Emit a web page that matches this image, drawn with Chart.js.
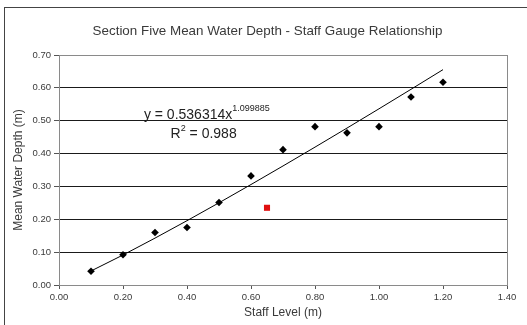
<!DOCTYPE html>
<html>
<head>
<meta charset="utf-8">
<script src="https://cdn.jsdelivr.net/npm/chart.js@4/dist/chart.umd.min.js"></script>
<style>
  html, body { margin: 0; padding: 0; background: #fff; }
  #wrap { width: 527px; height: 325px; }
</style>
</head>
<body>
<div id="wrap"><canvas id="chart" width="527" height="325"></canvas></div>
<script>
// staff level readings (m) and mean water depth (m)
const staffLevels = [0.1, 0.2, 0.3, 0.4, 0.5, 0.6, 0.7, 0.8, 0.9, 1.0, 1.1, 1.2];
const meanDepths = [0.042, 0.092, 0.160, 0.175, 0.251, 0.332, 0.412, 0.482, 0.463, 0.482, 0.572, 0.617];

// the odd one out, marked in red
const outlierLevel = [0.65];
const outlierDepth = [0.235];

// power trendline as printed on the chart
const trendCoef = 0.536314;
const trendExp = 1.099885;
const trendR2 = 0.988;

const xTicks = [0, 0.2, 0.4, 0.6, 0.8, 1.0, 1.2, 1.4];
const yTicks = [0, 0.1, 0.2, 0.3, 0.4, 0.5, 0.6, 0.7];

const chartTitle = 'Section Five Mean Water Depth - Staff Gauge Relationship';

const FONT = '"Liberation Sans", Arial, sans-serif';
const TEXT = '#3a3a3a';

const trendPoints = [];
for (let i = 0; i < staffLevels.length; i++) {
    const x = staffLevels[i];
    trendPoints.push({ x, y: trendCoef * Math.pow(x, trendExp) });
}

const framePlugin = {
    id: 'frame',
    beforeDraw(chart) {
        const ctx = chart.ctx;
        ctx.save();
        ctx.fillStyle = '#fff';
        ctx.fillRect(0, 0, chart.width, chart.height);
        ctx.strokeStyle = '#444';
        ctx.lineWidth = 1;
        ctx.strokeRect(4.5, 7.5, chart.width + 20, chart.height + 20);

        // title sits a bit right of the canvas centre, like the original
        ctx.fillStyle = TEXT;
        ctx.font = '13.4px ' + FONT;
        ctx.textAlign = 'center';
        ctx.textBaseline = 'middle';
        ctx.fillText(chartTitle, 267.5, 31);
        ctx.restore();
    },
    afterDatasetsDraw(chart) {
        const { ctx, chartArea: a, scales } = chart;
        ctx.save();
        ctx.strokeStyle = '#8a8a8a';
        ctx.lineWidth = 1;
        ctx.strokeRect(Math.round(a.left) + 0.5, Math.round(a.top) + 0.5,
            Math.round(a.right - a.left), Math.round(a.bottom - a.top));

        // trendline equation
        const ex = scales.x.getPixelForValue(0.462);
        const ey = scales.y.getPixelForValue(0.505);
        ctx.fillStyle = '#222';
        ctx.textBaseline = 'alphabetic';
        ctx.font = '14px ' + FONT;
        const main = 'y = ' + trendCoef + 'x';
        const mw = ctx.measureText(main).width;
        ctx.font = '9px ' + FONT;
        const sup = String(trendExp);
        const sw = ctx.measureText(sup).width;
        const startX = ex - (mw + sw) / 2;
        ctx.font = '14px ' + FONT;
        ctx.textAlign = 'left';
        ctx.fillText(main, startX, ey);
        ctx.font = '9px ' + FONT;
        ctx.fillText(sup, startX + mw, ey - 8);

        const ry = ey + 19;
        ctx.font = '14px ' + FONT;
        const r1 = 'R', r2 = ' = ' + trendR2.toFixed(3);
        const w1 = ctx.measureText(r1).width;
        const w3 = ctx.measureText(r2).width;
        ctx.font = '9px ' + FONT;
        const w2 = ctx.measureText('2').width;
        const rx = scales.x.getPixelForValue(0.452) - (w1 + w2 + w3) / 2;
        ctx.font = '14px ' + FONT;
        ctx.fillText(r1, rx, ry);
        ctx.font = '9px ' + FONT;
        ctx.fillText('2', rx + w1, ry - 7);
        ctx.font = '14px ' + FONT;
        ctx.fillText(r2, rx + w1 + w2, ry);
        ctx.restore();
    }
};

new Chart(document.getElementById('chart'), {
    type: 'scatter',
    data: {
        datasets: [
            {
                label: 'Trend',
                type: 'line',
                data: trendPoints,
                borderColor: '#000',
                borderWidth: 1,
                pointRadius: 0,
                fill: false,
                order: 2,
            },
            {
                label: 'Mean depth',
                data: staffLevels.map((x, i) => ({ x, y: meanDepths[i] })),
                pointStyle: 'rectRot',
                pointRadius: 3.8,
                backgroundColor: '#000',
                borderColor: '#000',
                borderWidth: 0,
                order: 1,
            },
            {
                label: 'Outlier',
                data: outlierLevel.map((x, i) => ({ x, y: outlierDepth[i] })),
                pointStyle: 'rect',
                pointRadius: 4.3,
                backgroundColor: '#e01010',
                borderColor: '#e01010',
                borderWidth: 0,
                order: 1,
            },
        ],
    },
    options: {
        responsive: false,
        animation: false,
        devicePixelRatio: 1,
        layout: { padding: { left: 0, right: 20, top: 55, bottom: 0 } },
        plugins: {
            legend: { display: false },
            tooltip: { enabled: false },
            title: { display: false },
        },
        scales: {
            x: {
                type: 'linear',
                min: 0,
                max: 1.4,
                afterBuildTicks: (s) => { s.ticks = xTicks.map((v) => ({ value: v })); },
                afterFit: (s) => { s.height = 40; },
                ticks: {
                    color: TEXT,
                    font: { family: FONT, size: 9.5 },
                    padding: 3,
                    maxRotation: 0,
                    callback: (v) => Number(v).toFixed(2),
                },
                grid: { drawOnChartArea: false, drawTicks: true, tickLength: 4, color: '#555' },
                border: { display: true, color: '#555' },
                title: {
                    display: true,
                    text: 'Staff Level (m)',
                    color: TEXT,
                    font: { family: FONT, size: 12 },
                    padding: { top: 0, bottom: 5 },
                },
            },
            y: {
                type: 'linear',
                min: 0,
                max: 0.7,
                afterBuildTicks: (s) => { s.ticks = yTicks.map((v) => ({ value: v })); },
                afterFit: (s) => { s.width = 59; },
                ticks: {
                    color: TEXT,
                    font: { family: FONT, size: 9.5 },
                    padding: 3,
                    callback: (v) => Number(v).toFixed(2),
                },
                grid: { color: '#1a1a1a', lineWidth: 1, tickLength: 5, tickColor: '#555' },
                border: { display: true, color: '#555' },
                title: {
                    display: true,
                    text: 'Mean Water Depth (m)',
                    color: TEXT,
                    font: { family: FONT, size: 12 },
                    padding: { top: 11, bottom: 0 },
                },
            },
        },
    },
    plugins: [framePlugin],
});
</script>
</body>
</html>
